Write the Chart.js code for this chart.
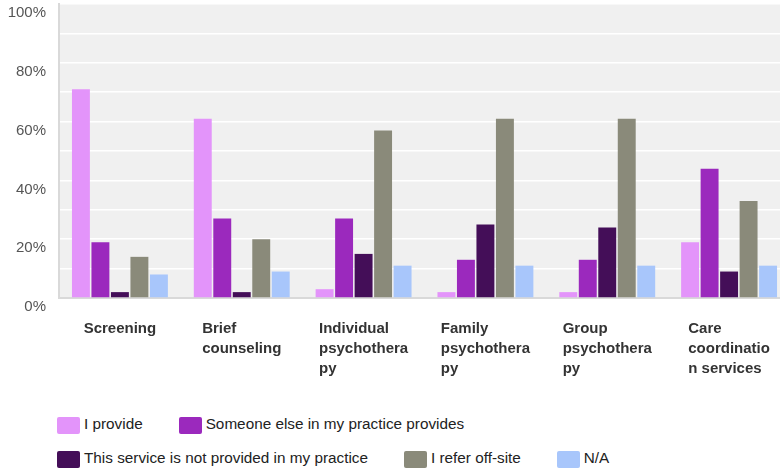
<!DOCTYPE html>
<html>
<head>
<meta charset="utf-8">
<script src="https://cdn.jsdelivr.net/npm/chart.js@4.4.1/dist/chart.umd.min.js"></script>
<style>
    html, body { margin: 0; padding: 0; background: #fff; overflow: hidden; }
    #wrap { position: relative; width: 780px; height: 472px; overflow: hidden; }
    #chart { position: absolute; left: 0; top: 0; }
    #legend {
        position: absolute; left: 57px; top: 417px; width: 723px;
        display: flex; flex-wrap: wrap; column-gap: 36px; row-gap: 17px;
        font: 15.3px "Liberation Sans", Arial, sans-serif; color: #222;
    }
    .item { display: flex; align-items: center; height: 17px; }
    .box { width: 23px; height: 17px; border-radius: 2px; margin-right: 4px; }
    .item span { position: relative; top: -2px; white-space: nowrap; }
</style>
</head>
<body>
<div id="wrap">
    <canvas id="chart" width="790" height="400"></canvas>
    <div id="legend"></div>
</div>
<script>
// categories (wrapped the same way as the original)
const categories = [
    ["Screening"],
    ["Brief", "counseling"],
    ["Individual", "psychothera", "py"],
    ["Family", "psychothera", "py"],
    ["Group", "psychothera", "py"],
    ["Care", "coordinatio", "n services"]
];

// series values (%)
const iProvide = [71, 61, 3, 2, 2, 19];
const someoneElse = [19, 27, 27, 13, 13, 44];
const notProvided = [2, 2, 15, 25, 24, 9];
const referOffsite = [14, 20, 57, 61, 61, 33];
const notApplicable = [8, 9, 11, 11, 11, 11];

const seriesLabels = [
    "I provide",
    "Someone else in my practice provides",
    "This service is not provided in my practice",
    "I refer off-site",
    "N/A"
];
const seriesColors = ["#e394fa", "#9b29bd", "#440e58", "#8a8a7a", "#a8c6fb"];

// y ticks every 10, label every 20
const yTickStep = 10;
const yLabelStep = 20;

const FONT = '"Liberation Sans", Arial, sans-serif';

// gray plot background
const plotBackground = {
    id: "plotBackground",
    beforeDraw(chart) {
        const { ctx, chartArea: a } = chart;
        ctx.save();
        ctx.fillStyle = "#f0f0f0";
        ctx.fillRect(a.left, a.top, a.right - a.left, a.bottom - a.top);
        ctx.restore();
    }
};

// category labels: left aligned lines, block centred under the group
const categoryLabels = {
    id: "categoryLabels",
    afterDraw(chart) {
        const { ctx } = chart;
        const xScale = chart.scales.x;
        ctx.save();
        ctx.font = "bold 15px " + FONT;
        ctx.fillStyle = "#333";
        ctx.textAlign = "left";
        ctx.textBaseline = "alphabetic";
        chart.data.labels.forEach((lines, i) => {
            const cx = xScale.getPixelForValue(i);
            const w = Math.max(...lines.map(l => ctx.measureText(l).width));
            lines.forEach((line, j) => {
                ctx.fillText(line, cx - w / 2, xScale.top + 35 + j * 20);
            });
        });
        ctx.restore();
    }
};

const values = [iProvide, someoneElse, notProvided, referOffsite, notApplicable];

const chart = new Chart(document.getElementById("chart"), {
    type: "bar",
    data: {
        labels: categories,
        datasets: values.map((data, i) => ({
            label: seriesLabels[i],
            data: data,
            backgroundColor: seriesColors[i],
            borderWidth: 0,
            barPercentage: 0.92,
            categoryPercentage: 0.8
        }))
    },
    options: {
        responsive: false,
        animation: false,
        layout: { padding: { top: 4, left: 0, right: 0, bottom: 0 } },
        plugins: {
            legend: { display: false },
            tooltip: { enabled: false }
        },
        scales: {
            x: {
                grid: { display: false, drawTicks: false },
                border: { color: "#d9d9d9", width: 2 },
                ticks: { display: false },
                afterFit(s) {
                    s.height = 102;
                    s.paddingLeft = 0;
                    s.paddingRight = 0;
                }
            },
            y: {
                min: 0,
                max: 100,
                grid: {
                    color: c => (c.tick && c.tick.value === 0 ? "rgba(0,0,0,0)" : "#ffffff"),
                    lineWidth: 1.5,
                    drawTicks: false
                },
                border: { color: "#d9d9d9", width: 2 },
                ticks: {
                    stepSize: yTickStep,
                    callback: v => (v % yLabelStep === 0 ? v + "%" : ""),
                    color: "#555",
                    font: { family: FONT, size: 15 },
                    padding: 13,
                    labelOffset: 9
                },
                afterFit(s) {
                    s.width = 59;
                    s.paddingTop = 0;
                    s.paddingBottom = 0;
                }
            }
        }
    },
    plugins: [plotBackground, categoryLabels]
});

// legend built from the datasets
const legend = document.getElementById("legend");
legend.innerHTML = chart.data.datasets.map(ds => `
    <div class="item"><div class="box" style="background:${ds.backgroundColor}"></div><span>${ds.label}</span></div>
`).join("");
</script>
</body>
</html>
